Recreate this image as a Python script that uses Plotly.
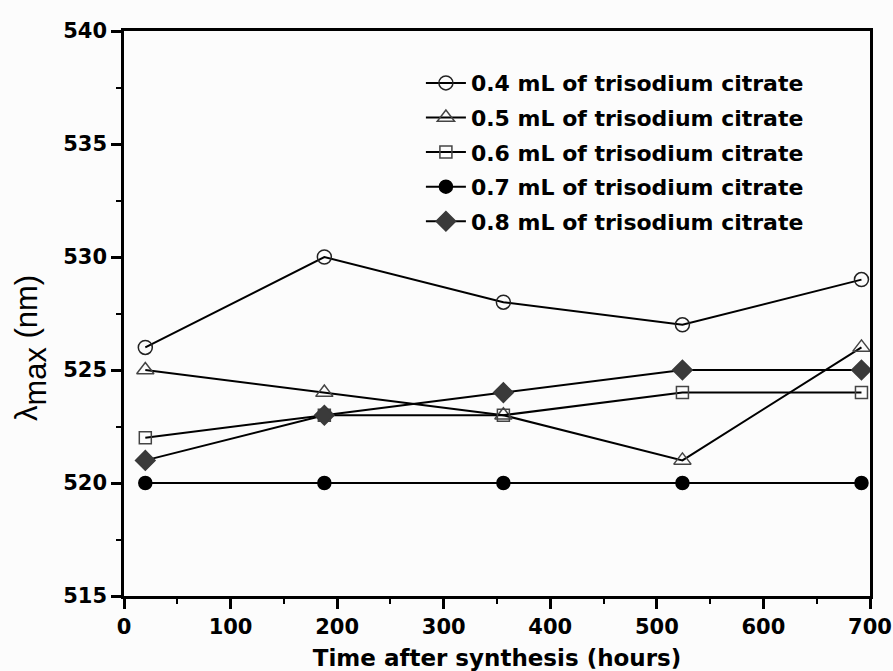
import plotly.graph_objects as go

hours = [20, 188, 356, 524, 692]
labels = ["0.4 mL of trisodium citrate", "0.5 mL of trisodium citrate",
          "0.6 mL of trisodium citrate", "0.7 mL of trisodium citrate",
          "0.8 mL of trisodium citrate"]
v04 = [526, 530, 528, 527, 529]
v05 = [525, 524, 523, 521, 526]
v06 = [522, 523, 523, 524, 524]
v07 = [520, 520, 520, 520, 520]
v08 = [521, 523, 524, 525, 525]

series = [v04, v05, v06, v07, v08]
symbols = ["circle-open", "triangle-up-open", "square-open", "circle", "diamond"]
mcolors = ["#222222", "#444444", "#444444", "#000000", "#3a3a3a"]
msizes = [14, 15, 12, 13, 15]

fig = go.Figure()
for i, (lab, vals) in enumerate(zip(labels, series)):
    fig.add_trace(go.Scatter(
        x=hours, y=vals, name=lab, mode="lines+markers",
        legendgroup=f"g{i}",
        line=dict(color="black", width=2),
        marker=dict(symbol=symbols[i], size=msizes[i], color=mcolors[i],
                    line=dict(width=1.5, color=mcolors[i]))))

bold_fam = "DejaVu Sans, Arial, sans-serif"
reg_fam = "Liberation Sans, Arial, sans-serif"
fig.update_layout(
    width=893, height=671,
    margin=dict(l=124, r=23, t=31, b=75),
    paper_bgcolor="#fcfcfc", plot_bgcolor="#fcfcfc",
    font=dict(family=bold_fam, color="black"),
    showlegend=True,
    legend=dict(x=0.398, y=0.945, xanchor="left", yanchor="top",
                bgcolor="rgba(0,0,0,0)", traceorder="grouped",
                tracegroupgap=3, itemwidth=40,
                font=dict(size=22, family=bold_fam, weight="bold")),
)
fig.update_xaxes(
    range=[0, 700], dtick=100, tick0=0, automargin=False,
    showgrid=False, zeroline=False,
    showline=True, linewidth=2.5, linecolor="black", mirror=True,
    ticks="outside", ticklen=10, tickwidth=2.5, tickcolor="black",
    minor=dict(dtick=50, ticks="outside", ticklen=5, tickwidth=2, tickcolor="black", showgrid=False),
    tickfont=dict(size=21, family=bold_fam, weight="bold"),
    title=dict(text="Time after synthesis (hours)",
               font=dict(size=23, family=bold_fam, weight="bold"), standoff=12),
)
fig.update_yaxes(
    range=[515, 540], dtick=5, tick0=515, automargin=False,
    showgrid=False, zeroline=False,
    showline=True, linewidth=2.5, linecolor="black", mirror=True,
    ticks="outside", ticklen=10, tickwidth=2.5, tickcolor="black",
    minor=dict(dtick=2.5, ticks="outside", ticklen=5, tickwidth=2, tickcolor="black", showgrid=False),
    tickfont=dict(size=21, family=bold_fam, weight="bold"),
)
fig.add_annotation(
    text="λ<span style='font-size:44px'><sub>max</sub></span> (nm)",
    xref="paper", yref="paper", x=-0.124, y=0.44,
    xanchor="center", yanchor="middle", textangle=-90, showarrow=False,
    font=dict(size=31, family=reg_fam, color="black"))
fig.write_html("out.html")
